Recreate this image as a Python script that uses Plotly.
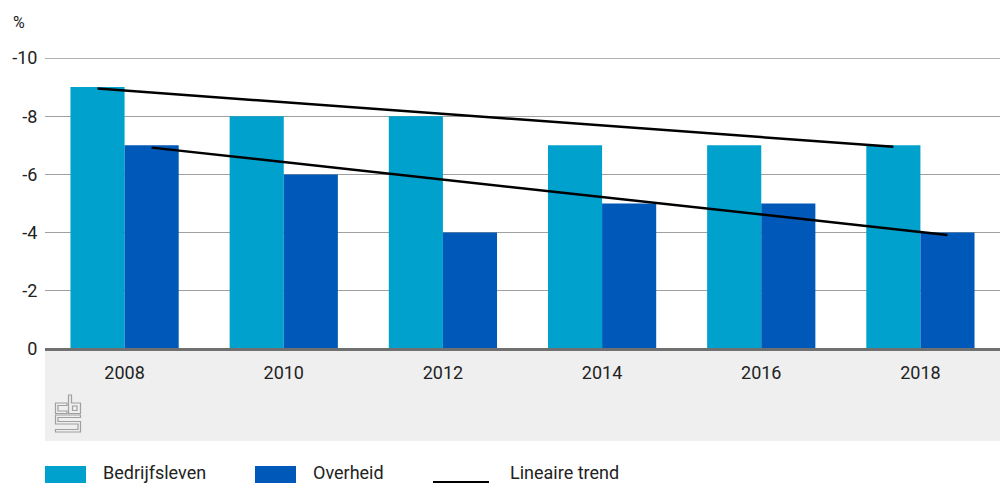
import plotly.graph_objects as go

years = [2008, 2010, 2012, 2014, 2016, 2018]
bedrijfsleven = [-9, -8, -8, -7, -7, -7]
overheid = [-7, -6, -4, -5, -5, -4]
trend_bedrijfsleven = [-8.95, -6.95]
trend_overheid = [-6.92, -3.92]
y_ticks = [0, -2, -4, -6, -8, -10]
y_ticktext = ["0", "-2", "-4", "-6", "-8", "-10"]

C_LIGHT = "#00a1cd"
C_DARK = "#0058b8"
FONT = "Roboto"

OFF = 8  # page body margin
W, H = 1008 - OFF, 483 - OFF
L, R, T, B = 45, 1000, 58, 349  # page pixel coordinates of plot area
BAR_W = 0.68

def px(x):
    return (x - L) / (R - L)

def py(y):
    return (B - y) / (B - T)

fig = go.Figure()
fig.add_trace(go.Bar(x=years, y=bedrijfsleven, name="Bedrijfsleven", marker_color=C_LIGHT,
                     width=BAR_W, offset=-BAR_W, marker_line_width=0))
fig.add_trace(go.Bar(x=years, y=overheid, name="Overheid", marker_color=C_DARK,
                     width=BAR_W, offset=0, marker_line_width=0))
fig.add_trace(go.Scatter(x=[years[0] - BAR_W / 2, years[-1] - BAR_W / 2], y=trend_bedrijfsleven,
                         mode="lines", line=dict(color="black", width=2.5), name="Lineaire trend"))
fig.add_trace(go.Scatter(x=[years[0] + BAR_W / 2, years[-1] + BAR_W / 2], y=trend_overheid,
                         mode="lines", line=dict(color="black", width=2.5), showlegend=False))

shapes = []
shapes.append(dict(type="rect", xref="paper", yref="paper", x0=0, x1=1, y0=py(441), y1=py(350),
                   fillcolor="#efefef", line_width=0, layer="below"))
shapes.append(dict(type="line", xref="paper", yref="paper", x0=0, x1=1, y0=py(349.5), y1=py(349.5),
                   line=dict(color="#707070", width=3)))
shapes.append(dict(type="line", xref="paper", yref="y", x0=0, x1=1, y0=-10, y1=-10,
                   line=dict(color="#666666", width=1), layer="below"))

def poly(pts):
    d = "M " + " L ".join(f"{px(x):.5f},{py(y):.5f}" for x, y in pts) + " Z"
    shapes.append(dict(type="path", xref="paper", yref="paper", path=d,
                       line=dict(color="#a0a0a0", width=1.2)))

# CBS logo (approximation)
poly([(55.5, 403), (67, 403), (67, 405.5), (58, 405.5), (58, 411), (67, 411), (67, 413.5), (55.5, 413.5)])
poly([(68.5, 395), (71.5, 395), (71.5, 403), (80.5, 403), (80.5, 413.5), (68.5, 413.5)])
poly([(72.5, 406), (77, 406), (77, 410.5), (72.5, 410.5)])
poly([(55.5, 415), (80.5, 415), (80.5, 417.5), (58, 417.5), (58, 421.5), (80.5, 421.5), (80.5, 432),
      (55.5, 432), (55.5, 429.5), (78, 429.5), (78, 424), (55.5, 424)])

# legend (manual)
shapes.append(dict(type="rect", xref="paper", yref="paper", x0=px(45), x1=px(86), y0=py(484), y1=py(466),
                   fillcolor=C_LIGHT, line_width=0))
shapes.append(dict(type="rect", xref="paper", yref="paper", x0=px(255), x1=px(296), y0=py(484), y1=py(466),
                   fillcolor=C_DARK, line_width=0))
shapes.append(dict(type="line", xref="paper", yref="paper", x0=px(433), x1=px(489), y0=py(482), y1=py(482),
                   line=dict(color="black", width=2)))

annotations = [
    dict(text="%", xref="paper", yref="paper", x=px(11), y=py(22), xanchor="left", yanchor="middle",
         showarrow=False, font=dict(size=16, color="#222")),
]
for label, xpos in [("Bedrijfsleven", 102), ("Overheid", 312), ("Lineaire trend", 509)]:
    annotations.append(dict(text=label, xref="paper", yref="paper", x=px(xpos), y=py(472), xanchor="left",
                            yanchor="middle", showarrow=False, borderpad=0,
                            font=dict(size=18, color="#222")))

fig.update_layout(
    width=W, height=H,
    margin=dict(l=L - OFF, r=(W + OFF) - R, t=T - OFF, b=(H + OFF) - B, pad=0),
    plot_bgcolor="white", paper_bgcolor="white",
    font=dict(family=FONT, size=17, color="#222"),
    showlegend=False,
    barmode="overlay",
    shapes=shapes,
    annotations=annotations,
    xaxis=dict(range=[years[0] - 1, years[-1] + 1], tickmode="array", tickvals=years,
               ticktext=[str(y) for y in years], showgrid=False, zeroline=False, showline=False,
               ticks="outside", ticklen=7, tickcolor="rgba(0,0,0,0)", tickfont=dict(size=18),
               automargin=False),
    yaxis=dict(range=[0, -10], tickmode="array", tickvals=y_ticks, ticktext=y_ticktext,
               showgrid=True, gridcolor="#a0a0a0", gridwidth=1, zeroline=False, showline=False,
               ticks="outside", ticklen=3, tickcolor="rgba(0,0,0,0)", tickfont=dict(size=18),
               automargin=False),
)

fig.write_html("out.html")
